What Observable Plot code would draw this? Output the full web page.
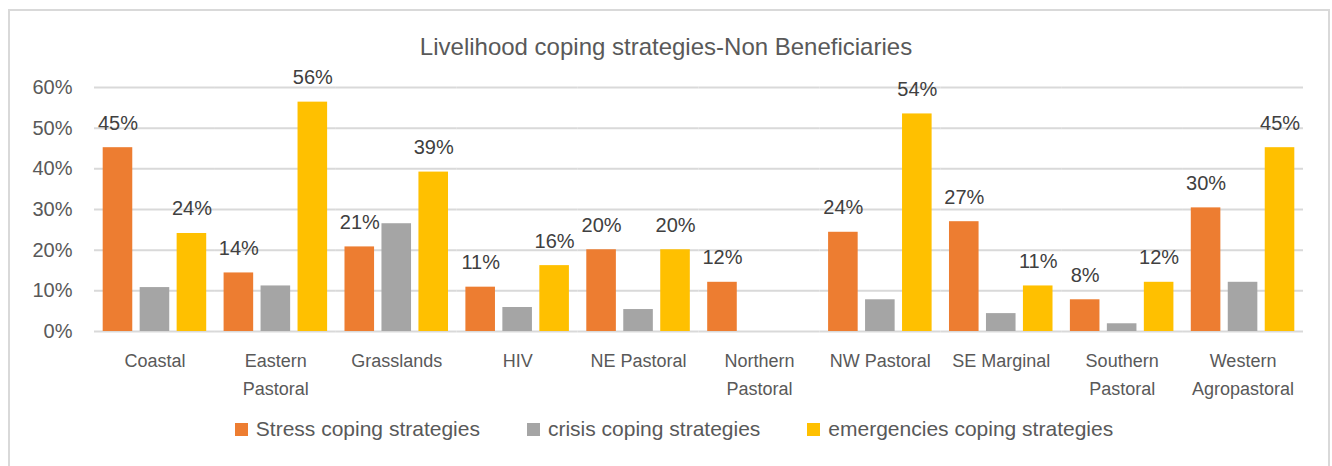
<!DOCTYPE html>
<html><head><meta charset="utf-8">
<script src="https://cdn.jsdelivr.net/npm/d3@7"></script>
<script src="https://cdn.jsdelivr.net/npm/@observablehq/plot@0.6"></script>
<style>
body{margin:0;background:#fff;font-family:"Liberation Sans",Arial,sans-serif;}
#wrap{position:relative;width:1332px;height:466px;overflow:hidden;}
#frame{position:absolute;left:8px;top:9px;width:1322px;height:480px;border:2px solid #d9d9d9;box-sizing:border-box;}
#title{position:absolute;top:33px;left:0;width:1332px;text-align:center;font-size:24px;color:#595959;}
#chart{position:absolute;left:0;top:0;}
#legend{position:absolute;top:417px;left:0;width:1332px;box-sizing:border-box;padding-left:16px;display:flex;justify-content:center;gap:47px;font-size:21px;color:#595959;}
#legend span.item{display:flex;align-items:center;}
.sw{display:inline-block;width:13px;height:13px;margin-right:8px;}
</style></head><body>
<div id="wrap"><div id="frame"></div><div id="title"></div><div id="chart"></div><div id="legend"></div></div>
<script>
const title = "Livelihood coping strategies-Non Beneficiaries";
const categories = ["Coastal","Eastern Pastoral","Grasslands","HIV","NE Pastoral","Northern Pastoral","NW Pastoral","SE Marginal","Southern Pastoral","Western Agropastoral"];
const categoryLabels = ["Coastal","Eastern\nPastoral","Grasslands","HIV","NE Pastoral","Northern\nPastoral","NW Pastoral","SE Marginal","Southern\nPastoral","Western\nAgropastoral"];
const series = ["Stress coping strategies","crisis coping strategies","emergencies coping strategies"];
const stress = [45.2,14.4,20.8,10.9,20.1,12.1,24.4,27.0,7.8,30.4];
const crisis = [10.8,11.2,26.5,5.9,5.4,null,7.8,4.4,1.9,12.1];
const emergencies = [24.1,56.4,39.2,16.2,20.1,null,53.5,11.2,12.1,45.2];
const colors = ["#ED7D31","#A5A5A5","#FFC000"];
const labeledSeries = ["Stress coping strategies","emergencies coping strategies"];
const yTicks = [0,10,20,30,40,50,60];

const font = '"Liberation Sans",Arial,sans-serif';
document.getElementById("title").textContent = title;

const data = [];
categories.forEach((c,i)=>{
  [stress,crisis,emergencies].forEach((arr,j)=>{
    if (arr[i] != null) data.push({category:c, series:series[j], value:arr[i]});
  });
});

const chart = Plot.plot({
  width:1332, height:466,
  marginLeft:94, marginRight:29, marginTop:87, marginBottom:135,
  style:{fontFamily:font, background:"transparent"},
  fx:{domain:categories, padding:0, round:false, label:null},
  x:{domain:series, paddingInner:0.2, paddingOuter:0.235, round:false, axis:null},
  y:{domain:[0,60], label:null},
  color:{domain:series, range:colors},
  marks:[
    Plot.gridY(yTicks,{stroke:"#d9d9d9", strokeOpacity:1, strokeWidth:2}),
    Plot.barY(data,{fx:"category", x:"series", y:"value", fill:"series"}),
    Plot.text(data.filter(d=>labeledSeries.includes(d.series)),{
      fx:"category", x:"series", y:"value", text:d=>Math.round(d.value)+"%",
      dy:-18, lineAnchor:"bottom", fontSize:20, fill:"#404040"}),
    Plot.axisY(yTicks,{tickSize:0, tickPadding:22, tickFormat:d=>d+"%", fontSize:20, fill:"#595959", label:null}),
    Plot.axisFx({anchor:"bottom", tickSize:0, tickPadding:16, tickFormat:d=>categoryLabels[categories.indexOf(d)], fontSize:18, lineHeight:1.55, fill:"#595959", label:null})
  ]
});
document.getElementById("chart").appendChild(chart);

const legend = document.getElementById("legend");
series.forEach((s,i)=>{
  const item = document.createElement("span");
  item.className = "item";
  const sw = document.createElement("span");
  sw.className = "sw"; sw.style.background = colors[i];
  item.appendChild(sw);
  item.appendChild(document.createTextNode(s));
  legend.appendChild(item);
});
</script>
</body></html>
